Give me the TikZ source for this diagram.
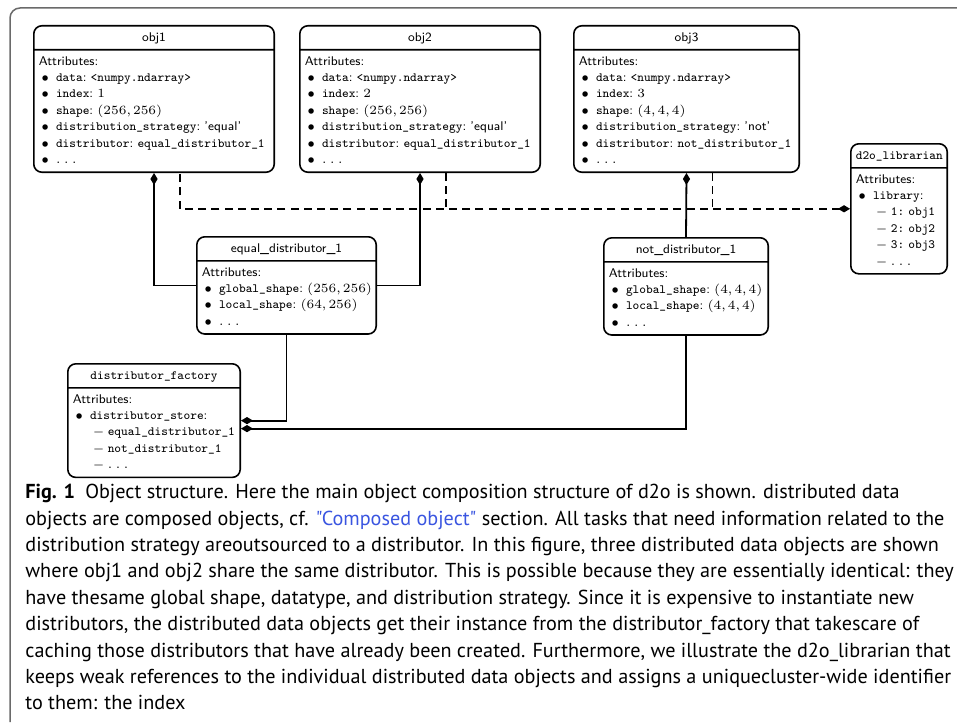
\documentclass[tikz,border=0pt]{standalone}
\usepackage{fontspec}
\newfontfamily\capfont{PT Sans}
\usetikzlibrary{arrows.meta,positioning,shapes.multipart}
\definecolor{linkblue}{HTML}{3A55E0}
\definecolor{framegray}{HTML}{6A6A6A}
\tikzset{
  classbox/.style={rectangle split, rectangle split parts=2, draw, line width=0.8pt, rounded corners=4pt,
    fill=white, align=left, font=\fontsize{6.3}{8.2}\selectfont\sffamily, inner xsep=2.5pt, inner ysep=1.5pt,
    anchor=north west, text width=#1},
  comp/.style={{Diamond[length=6pt,width=3.6pt]}-, line width=0.9pt},
  wref/.style={line width=0.9pt, dash pattern=on 4pt off 2.6pt},
  caption/.style={align=left, inner sep=0pt, anchor=north west, font=\capfont\fontsize{10.1}{13.2}\selectfont},
}
\newcommand{\itm}{\makebox[8.6pt][l]{\hspace{1.3pt}$\bullet$}}
\newcommand{\subitm}{\hspace*{10pt}\makebox[7.5pt][l]{$-$}}
\newcommand{\code}[1]{\texttt{#1}}
\newcommand{\val}[1]{\textrm{#1}}
\newcommand{\more}{\val{.\hspace{1.8pt}.\hspace{1.8pt}.}}
\newcommand{\head}[1]{\centering\strut#1\par}

\begin{document}
\begin{tikzpicture}[x=0.5pt, y=-0.5pt]
  \useasboundingbox (0,0) rectangle (957,722);
  % frame of the figure
  \draw[framegray, line width=0.75pt, rounded corners=5pt] (10,722) |- (957,8);

  % distributed data objects
  \node[classbox=115.2pt] (obj1) at (33,25) {\head{obj1}
    \nodepart{two}\strut Attributes:\\
    \itm\code{data}:~\code{<numpy.ndarray>}\\
    \itm\code{index}:~\val{1}\\
    \itm\code{shape}:~\val{(256,\,256)}\\
    \itm\code{distribution\_strategy}:~'equal'\\
    \itm\code{distributor}:~\code{equal\_distributor\_1}\\
    \itm\more\strut};
  \node[classbox=115.2pt, right=12pt of obj1] (obj2) {\head{obj2}
    \nodepart{two}\strut Attributes:\\
    \itm\code{data}:~\code{<numpy.ndarray>}\\
    \itm\code{index}:~\val{2}\\
    \itm\code{shape}:~\val{(256,\,256)}\\
    \itm\code{distribution\_strategy}:~'equal'\\
    \itm\code{distributor}:~\code{equal\_distributor\_1}\\
    \itm\more\strut};
  \node[classbox=107.7pt, right=16pt of obj2] (obj3) {\head{obj3}
    \nodepart{two}\strut Attributes:\\
    \itm\code{data}:~\code{<numpy.ndarray>}\\
    \itm\code{index}:~\val{3}\\
    \itm\code{shape}:~\val{(4,\,4,\,4)}\\
    \itm\code{distribution\_strategy}:~'not'\\
    \itm\code{distributor}:~\code{not\_distributor\_1}\\
    \itm\more\strut};

  % librarian
  \node[classbox=43.2pt] (lib) at (850,143) {\head{\code{d2o\_librarian}}
    \nodepart{two}\strut Attributes:\\
    \itm\code{library}:\\
    \subitm\code{1:~obj1}\\
    \subitm\code{2:~obj2}\\
    \subitm\code{3:~obj3}\\
    \subitm\more\strut};

  % distributors
  \node[classbox=84.7pt] (eqdist) at (196,236) {\head{equal\_distributor\_1}
    \nodepart{two}\strut Attributes:\\
    \itm\code{global\_shape}:~\val{(256,\,256)}\\
    \itm\code{local\_shape}:~\val{(64,\,256)}\\
    \itm\more\strut};
  \node[classbox=77.2pt] (notdist) at (603,237) {\head{not\_distributor\_1}
    \nodepart{two}\strut Attributes:\\
    \itm\code{global\_shape}:~\val{(4,\,4,\,4)}\\
    \itm\code{local\_shape}:~\val{(4,\,4,\,4)}\\
    \itm\more\strut};
  \node[classbox=81.2pt] (fact) at (67,363) {\head{\code{distributor\_factory}}
    \nodepart{two}\strut Attributes:\\
    \itm\code{distributor\_store}:\\
    \subitm\code{equal\_distributor\_1}\\
    \subitm\code{not\_distributor\_1}\\
    \subitm\more\strut};

  % composition
  \draw[comp] (obj1.south) |- (eqdist.west);
  \draw[comp] (obj2.south) |- (eqdist.east);
  \draw[comp] (obj3.south) -- (notdist.north);
  \draw[comp] (fact.east) -| (eqdist.south);
  \draw[comp] ([yshift=-4pt]fact.east) -| (notdist.south);

  % weak references
  \draw[wref, {Diamond[length=6pt,width=3.6pt]}-] (lib.west) -| ([xshift=13pt]obj1.south);
  \draw[wref] ([xshift=13pt]obj2.south) -- ([xshift=13pt]obj2.south |- lib.west);
  \draw[wref] ([xshift=13pt]obj3.south) -- ([xshift=13pt]obj3.south |- lib.west);

  % caption
  \node[caption] (cap) at (25,484) {\textbf{Fig. 1}\enspace Object structure. Here the main object composition structure of d2o is shown. distributed data\\
    objects are composed objects, cf. \textcolor{linkblue}{"Composed object"} section. All tasks that need information related to the\\
    distribution strategy areoutsourced to a distributor. In this figure, three distributed data objects are shown\\
    where obj1 and obj2 share the same distributor. This is possible because they are essentially identical: they\\
    have thesame global shape, datatype, and distribution strategy. Since it is expensive to instantiate new\\
    distributors, the distributed data objects get their instance from the distributor\_factory that takescare of\\
    caching those distributors that have already been created. Furthermore, we illustrate the d2o\_librarian that\\
    keeps weak references to the individual distributed data objects and assigns a uniquecluster-wide identifier\\
    to them: the index};
\end{tikzpicture}
\end{document}
